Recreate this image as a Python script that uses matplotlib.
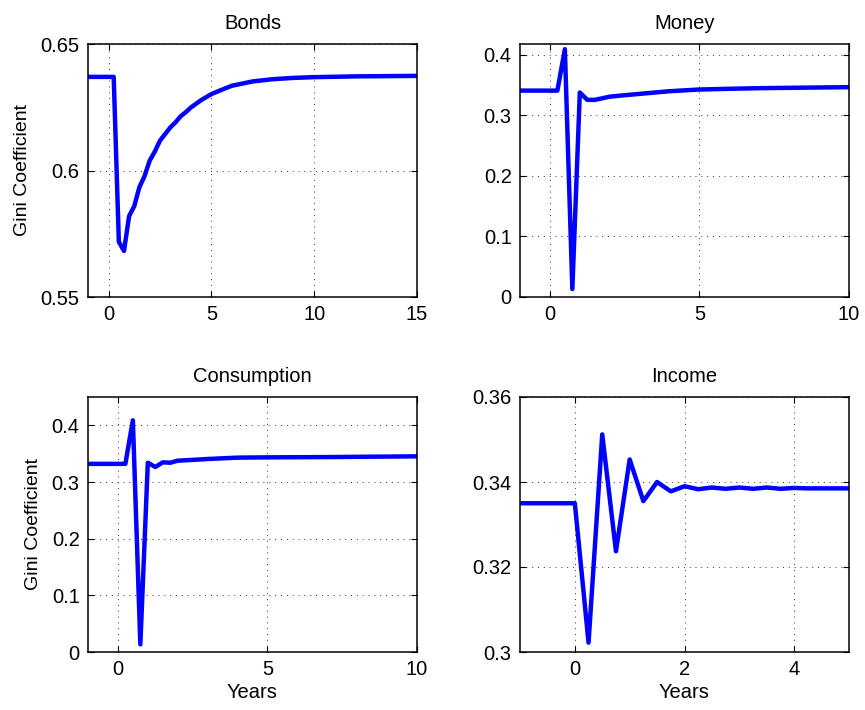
import numpy as np
import matplotlib.pyplot as plt

plt.rcParams['font.family'] = ['Liberation Sans', 'DejaVu Sans']

# Bonds (years, Gini)
bonds_x = [-1, -0.75, -0.5, -0.25, 0, 0.25, 0.5, 0.75, 1.0, 1.25, 1.5, 1.75, 2.0, 2.25,
           2.5, 2.75, 3.0, 3.25, 3.5, 3.75, 4.0, 4.5, 5.0, 5.5, 6.0, 7.0, 8.0, 9.0, 10.0,
           12.0, 15.0]
bonds_y = [0.637, 0.637, 0.637, 0.637, 0.637, 0.637, 0.5718, 0.5682, 0.582, 0.5859,
           0.5934, 0.5978, 0.6039, 0.6075, 0.6118, 0.6144, 0.617, 0.619, 0.6214, 0.623,
           0.6249, 0.6278, 0.6302, 0.6319, 0.6335, 0.6352, 0.6361, 0.6366, 0.6369,
           0.6372, 0.6374]

# Money
money_x = [-1, -0.75, -0.5, -0.25, 0, 0.25, 0.5, 0.75, 1.0, 1.25, 1.5, 2.0, 2.5, 3.0,
           4.0, 5.0, 6.0, 7.0, 8.0, 10.0]
money_y = [0.341, 0.341, 0.341, 0.341, 0.341, 0.341, 0.4094, 0.0132, 0.3378, 0.3257,
           0.3257, 0.331, 0.3334, 0.3356, 0.340, 0.3428, 0.344, 0.345, 0.3456, 0.3467]

# Consumption
cons_x = [-1, -0.75, -0.5, -0.25, 0, 0.25, 0.5, 0.75, 1.0, 1.25, 1.5, 1.75, 2.0, 2.5,
          3.0, 4.0, 5.0, 7.0, 10.0]
cons_y = [0.332, 0.332, 0.332, 0.332, 0.332, 0.332, 0.4088, 0.0135, 0.334, 0.3265,
          0.3347, 0.334, 0.3376, 0.339, 0.3406, 0.343, 0.3435, 0.344, 0.3453]

# Income
inc_x = [-1, -0.75, -0.5, -0.25, 0, 0.25, 0.5, 0.75, 1.0, 1.25, 1.5, 1.75, 2.0, 2.25,
         2.5, 2.75, 3.0, 3.25, 3.5, 3.75, 4.0, 4.25, 4.5, 4.75, 5.0]
inc_y = [0.335, 0.335, 0.335, 0.335, 0.335, 0.3022, 0.3512, 0.3237, 0.3453, 0.3355,
         0.340, 0.3378, 0.339, 0.3383, 0.3387, 0.3384, 0.3387, 0.3384, 0.3387, 0.3384,
         0.3386, 0.3385, 0.3385, 0.3385, 0.3385]

W, H = 865, 710
fig = plt.figure(figsize=(W / 100, H / 100), dpi=100)


def make_ax(l, r, t, b):
    return fig.add_axes([l / W, 1 - b / H, (r - l) / W, (b - t) / H])


panels = [
    (make_ax(88, 417, 44, 297), bonds_x, bonds_y, 'Bonds', (-1, 15), (0.55, 0.65),
     [0, 5, 10, 15], [0.55, 0.6, 0.65], ['0.55', '0.6', '0.65'], True, False),
    (make_ax(520, 849, 44, 297), money_x, money_y, 'Money', (-1, 10), (0, 0.418),
     [0, 5, 10], [0, 0.1, 0.2, 0.3, 0.4], ['0', '0.1', '0.2', '0.3', '0.4'], False, False),
    (make_ax(88, 417, 397, 652), cons_x, cons_y, 'Consumption', (-1, 10), (0, 0.45),
     [0, 5, 10], [0, 0.1, 0.2, 0.3, 0.4], ['0', '0.1', '0.2', '0.3', '0.4'], True, True),
    (make_ax(520, 849, 397, 652), inc_x, inc_y, 'Income', (-1, 5), (0.3, 0.36),
     [0, 2, 4], [0.3, 0.32, 0.34, 0.36], ['0.3', '0.32', '0.34', '0.36'], False, True),
]

for ax, x, y, title, xl, yl, xt, yt, ytl, ylab, xlab in panels:
    ax.plot(x, y, color='#0000ff', linewidth=3.2, solid_joinstyle='round')
    ax.set_xlim(*xl)
    ax.set_ylim(*yl)
    ax.set_xticks(xt)
    ax.set_xticklabels([str(v) for v in xt])
    ax.set_yticks(yt)
    ax.set_yticklabels(ytl)
    ax.grid(True, color='#333333', linestyle=(0, (1, 5)), linewidth=0.7)
    ax.tick_params(direction='in', top=True, right=True, labelsize=14.5, length=4, pad=6)
    for s in ax.spines.values():
        s.set_linewidth(1.1)
    ax.set_title(title, fontsize=14.5, pad=11)
    if ylab:
        ax.set_ylabel('Gini Coefficient', fontsize=14, labelpad=7)
    if xlab:
        ax.set_xlabel('Years', fontsize=14.5, labelpad=3)

fig.savefig('out.png', dpi=100)
